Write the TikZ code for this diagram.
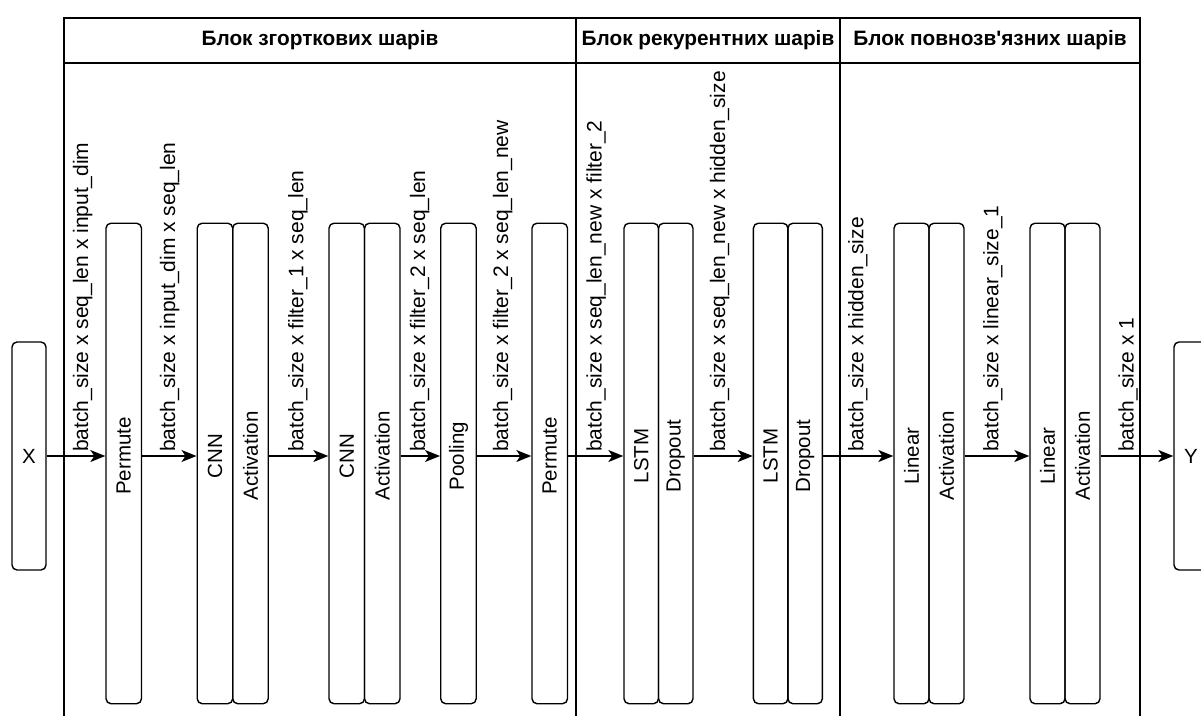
\documentclass[tikz,border=0pt]{standalone}
\usepackage{fontspec}
\setmainfont{Liberation Sans}
\usetikzlibrary{arrows.meta}
\begin{document}
\begin{tikzpicture}[x=1pt,y=-1pt,
  lay/.style={draw, line width=1.4pt, rounded corners=5pt, minimum width=35.5pt,
    minimum height=480.5pt, inner sep=0pt, anchor=north west},
  io/.style={draw, line width=1.4pt, rounded corners=5pt, minimum width=34pt,
    minimum height=228pt, inner sep=0pt, font=\fontsize{20.5}{24}\selectfont},
  boxtxt/.style={rotate=90, inner sep=0pt, font=\fontsize{20.5}{24}\selectfont},
  lab/.style={rotate=90, anchor=base west, inner sep=0pt, font=\fontsize{21}{25}\selectfont},
  title/.style={inner sep=0pt, font=\fontsize{20.8}{25}\selectfont\bfseries},
  frame/.style={line width=1.4pt},
  arr/.style={line width=1.4pt, -{Stealth[length=15pt,width=12pt,inset=4pt]}}
]
\useasboundingbox (0,0) rectangle (1201,715);
\clip (0,0) rectangle (1201,715);

% frame and header
\draw[frame] (64,716) -- (64,18) -- (1140,18) -- (1140,716);
\draw[frame] (64,63) -- (1140,63);
\draw[frame] (576,18) -- (576,716);
\draw[frame] (840,18) -- (840,716);
\node[title] (t1) at (320,40.5) {Блок згорткових шарів};
\node[title] (t2) at (708,40.5) {Блок рекурентних шарів};
\node[title] (t3) at (990,40.5) {Блок повнозв\textquotesingle язних шарів};

% input / output
\node[io] (X) at (29,456) {X};
\node[io] (Y) at (1191,456) {Y};

% layer boxes
\node[lay] (perm1) at (105.3,222.5) {};
\node[lay] (cnn1) at (196.5,222.5) {};
\node[lay] (act1) at (232,222.5) {};
\node[lay] (cnn2) at (328.3,222.5) {};
\node[lay] (act2) at (363.8,222.5) {};
\node[lay] (pool) at (440,222.5) {};
\node[lay] (perm2) at (531.3,222.5) {};
\node[lay, minimum width=34.5pt] (lstm1) at (623.3,222.5) {};
\node[lay, minimum width=34.5pt] (drop1) at (657.8,222.5) {};
\node[lay, minimum width=34.5pt] (lstm2) at (752.7,222.5) {};
\node[lay, minimum width=34.5pt] (drop2) at (787.2,222.5) {};
\node[lay, minimum width=35pt] (lin1) at (893.3,222.5) {};
\node[lay, minimum width=35pt] (act3) at (928.3,222.5) {};
\node[lay, minimum width=35pt] (lin2) at (1029.3,222.5) {};
\node[lay, minimum width=35pt] (act4) at (1064.3,222.5) {};

\coordinate (axis) at (0,456);
\node[boxtxt] (tperm1) at (perm1.center |- axis) {Permute};
\node[boxtxt] (tcnn1) at (cnn1.center |- axis) {CNN};
\node[boxtxt] (tact1) at (act1.center |- axis) {Activation};
\node[boxtxt] (tcnn2) at (cnn2.center |- axis) {CNN};
\node[boxtxt] (tact2) at (act2.center |- axis) {Activation};
\node[boxtxt] (tpool) at (pool.center |- axis) {Pooling};
\node[boxtxt] (tperm2) at (perm2.center |- axis) {Permute};
\node[boxtxt] (tlstm1) at (lstm1.center |- axis) {LSTM};
\node[boxtxt] (tdrop1) at (drop1.center |- axis) {Dropout};
\node[boxtxt] (tlstm2) at (lstm2.center |- axis) {LSTM};
\node[boxtxt] (tdrop2) at (drop2.center |- axis) {Dropout};
\node[boxtxt] (tlin1) at (lin1.center |- axis) {Linear};
\node[boxtxt] (tact3) at (act3.center |- axis) {Activation};
\node[boxtxt] (tlin2) at (lin2.center |- axis) {Linear};
\node[boxtxt] (tact4) at (act4.center |- axis) {Activation};

% connectors
\draw[arr] (X.east) -- (perm1.west |- X.east);
\draw[arr] (perm1.east |- X.east) -- (cnn1.west |- X.east);
\draw[arr] (act1.east |- X.east) -- (cnn2.west |- X.east);
\draw[arr] (act2.east |- X.east) -- (pool.west |- X.east);
\draw[arr] (pool.east |- X.east) -- (perm2.west |- X.east);
\draw[arr] (perm2.east |- X.east) -- (lstm1.west |- X.east);
\draw[arr] (drop1.east |- X.east) -- (lstm2.west |- X.east);
\draw[arr] (drop2.east |- X.east) -- (lin1.west |- X.east);
\draw[arr] (act3.east |- X.east) -- (lin2.west |- X.east);
\draw[arr] (act4.east |- X.east) -- (Y.west);

% connector labels
\node[lab] (l1) at (88,452) {batch\_size x seq\_len x input\_dim};
\node[lab] (l2) at (175,452) {batch\_size x input\_dim x seq\_len};
\node[lab] (l3) at (303.3,452) {batch\_size x filter\_1 x seq\_len};
\node[lab] (l4) at (425,452) {batch\_size x filter\_2 x seq\_len};
\node[lab] (l5) at (508,452) {batch\_size x filter\_2 x seq\_len\_new};
\node[lab] (l6) at (601.7,452) {batch\_size x seq\_len\_new x filter\_2};
\node[lab] (l7) at (725,452) {batch\_size x seq\_len\_new x hidden\_size};
\node[lab] (l8) at (863.3,452) {batch\_size x hidden\_size};
\node[lab] (l9) at (998.3,452) {batch\_size x linear\_size\_1};
\node[lab] (l10) at (1133.5,452) {batch\_size x 1};
\end{tikzpicture}
\end{document}
